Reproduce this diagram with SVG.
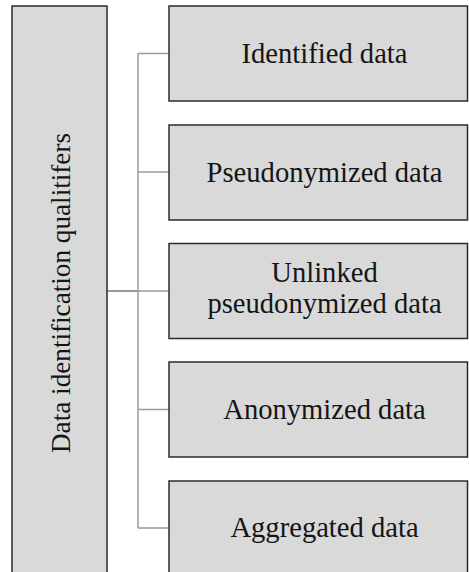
<svg xmlns="http://www.w3.org/2000/svg" width="469" height="572" viewBox="0 0 469 572">
  <style>
    .box { fill: #d9d9d9; stroke: #2b2b2b; stroke-width: 1.5; }
    .lbl { font-family: "Liberation Serif", "DejaVu Serif", serif; font-size: 28.6px; fill: #151515; text-anchor: middle; }
    .side { font-size: 27.2px; }
    .wire { fill: none; stroke: #9a9a9a; stroke-width: 1.5; }
    .trunk { fill: none; stroke: #7a7a7a; stroke-width: 1.5; }
  </style>
  <rect width="469" height="572" fill="#ffffff"/>

  <g id="connectors">
    <line class="trunk" x1="107" y1="291" x2="138" y2="291"/>
    <line class="wire" x1="138" y1="53.5" x2="138" y2="528"/>
    <line class="wire" x1="138" y1="53.5" x2="169" y2="53.5"/>
    <line class="wire" x1="138" y1="172" x2="169" y2="172"/>
    <line class="wire" x1="138" y1="291" x2="169" y2="291"/>
    <line class="wire" x1="138" y1="409.5" x2="169" y2="409.5"/>
    <line class="wire" x1="138" y1="528" x2="169" y2="528"/>
  </g>

  <g id="qualifiers">
    <rect class="box" x="12" y="6" width="95" height="580"/>
    <text class="lbl side" transform="translate(70 293) rotate(-90)" x="0" y="0">Data identification qualitifers</text>
  </g>

  <g id="identified">
    <rect class="box" x="169" y="6" width="298.5" height="95"/>
    <text class="lbl" x="324.5" y="63">Identified data</text>
  </g>

  <g id="pseudonymized">
    <rect class="box" x="169" y="125" width="298.5" height="95"/>
    <text class="lbl" x="324.5" y="182">Pseudonymized data</text>
  </g>

  <g id="unlinked">
    <rect class="box" x="169" y="243.5" width="298.5" height="95"/>
    <text class="lbl" x="324.5" y="281.5">Unlinked</text>
    <text class="lbl" x="324.5" y="313">pseudonymized data</text>
  </g>

  <g id="anonymized">
    <rect class="box" x="169" y="362" width="298.5" height="95"/>
    <text class="lbl" x="324.5" y="418.5">Anonymized data</text>
  </g>

  <g id="aggregated">
    <rect class="box" x="169" y="481" width="298.5" height="100"/>
    <text class="lbl" x="324.5" y="537">Aggregated data</text>
  </g>
</svg>
